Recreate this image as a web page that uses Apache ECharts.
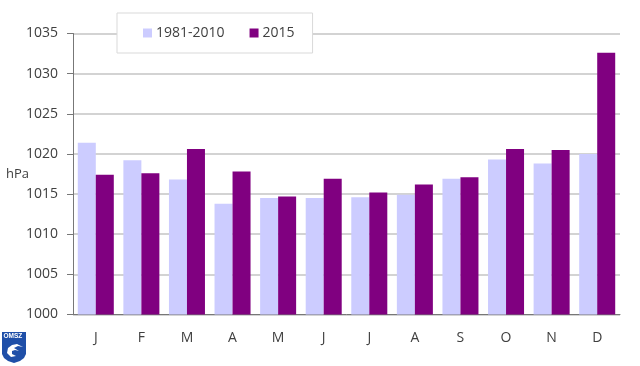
<!DOCTYPE html>
<html>
<head>
<meta charset="utf-8">
<style>
  html, body { margin: 0; padding: 0; background: #fff; }
  #chart { width: 640px; height: 366px; }
</style>
<script src="https://cdn.jsdelivr.net/npm/echarts@6/dist/echarts.min.js"></script>
</head>
<body>
<div id="chart"></div>
<script>
const months = ['J', 'F', 'M', 'A', 'M', 'J', 'J', 'A', 'S', 'O', 'N', 'D'];
const normal = [1021.4, 1019.2, 1016.8, 1013.8, 1014.5, 1014.5, 1014.6, 1014.9, 1016.9, 1019.3, 1018.8, 1020.0];
const year2015 = [1017.4, 1017.6, 1020.6, 1017.8, 1014.7, 1016.9, 1015.2, 1016.2, 1017.1, 1020.6, 1020.5, 1032.6];

const font = '"Open Sans", sans-serif';
const textColor = '#404040';

const chart = echarts.init(document.getElementById('chart'), null, { renderer: 'canvas' });
chart.setOption({
    animation: false,
    backgroundColor: '#fff',
    textStyle: { fontFamily: font },
    grid: { left: 73, right: 20, top: 33.5, bottom: 51.5, outerBoundsMode: 'none' },
    legend: {
        left: 117,
        top: 13,
        padding: [13, 18, 13, 26],
        itemWidth: 9,
        itemHeight: 9,
        itemGap: 25,
        icon: 'rect',
        backgroundColor: '#fff',
        borderColor: '#d9d9d9',
        borderWidth: 1,
        textStyle: { fontFamily: font, fontSize: 14, color: textColor, padding: [0, 0, 0, -1] },
        data: ['1981-2010', '2015']
    },
    xAxis: {
        type: 'category',
        data: months,
        axisLine: { lineStyle: { color: '#777', width: 1 } },
        axisTick: { alignWithLabel: false, length: 5, lineStyle: { color: '#777' } },
        axisLabel: { color: textColor, fontSize: 14, margin: 17 }
    },
    yAxis: {
        type: 'value',
        min: 1000,
        max: 1035,
        interval: 5,
        name: 'hPa',
        nameLocation: 'middle',
        nameRotate: 0,
        nameGap: 44,
        nameMoveOverlap: false,
        nameTextStyle: { color: textColor, fontSize: 13 },
        axisLine: { show: true, lineStyle: { color: '#777', width: 1 } },
        axisTick: { show: true, length: 6, lineStyle: { color: '#777' } },
        axisLabel: { color: textColor, fontSize: 14, margin: 15, formatter: (v) => String(v) },
        splitLine: { lineStyle: { color: '#c4c4c4', width: 1.5 } }
    },
    series: [
        {
            name: '1981-2010',
            type: 'bar',
            data: normal,
            barGap: 0,
            barCategoryGap: '21%',
            itemStyle: { color: '#ccccff' }
        },
        {
            name: '2015',
            type: 'bar',
            data: year2015,
            itemStyle: { color: '#800080' }
        }
    ],
    // OMSZ logo in the corner
    graphic: [
        {
            type: 'polygon',
            shape: {
                points: [[2, 332], [26, 332], [26, 354], [24, 358], [20, 361], [14, 363], [8, 361], [4, 358], [2, 354]]
            },
            style: { fill: '#1f4fa8' }
        },
        {
            type: 'text',
            x: 3.5,
            y: 333,
            style: { text: 'OMSZ', fill: '#fff', font: 'bold 6.5px "Liberation Sans", sans-serif' }
        },
        {
            type: 'polygon',
            shape: {
                points: [[7, 353], [8, 348], [12, 345], [17, 344], [23, 347], [18, 346], [14, 348], [19, 351], [15, 350], [12, 351], [12, 354], [16, 356], [11, 357]]
            },
            style: { fill: '#fff' }
        }
    ]
});
</script>
</body>
</html>
